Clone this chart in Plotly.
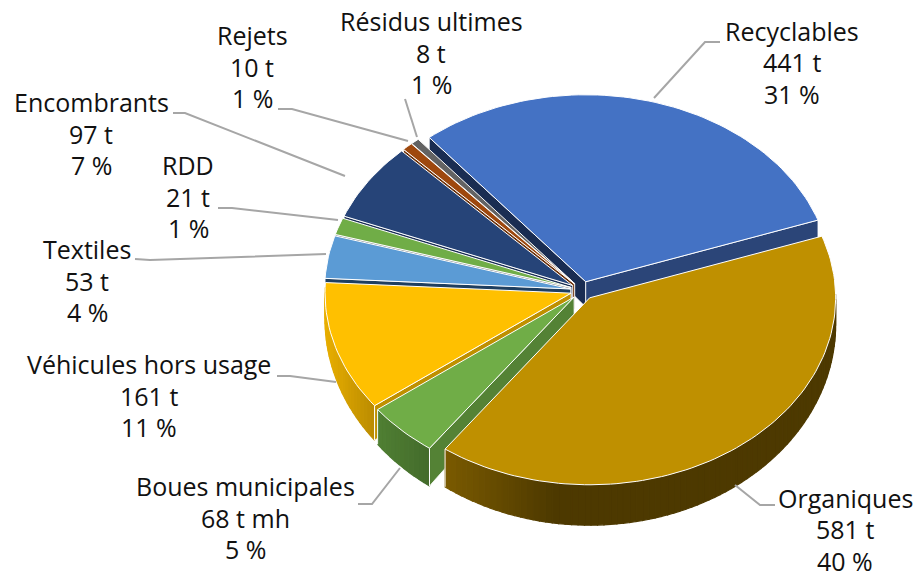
import math
import plotly.graph_objects as go

categories = ["Recyclables", "Organiques", "Boues municipales", "Véhicules hors usage", "Textiles", "RDD", "Encombrants", "Rejets", "Résidus ultimes"]
tonnes = [441, 581, 68, 161, 53, 21, 97, 10, 8]
units = ["t", "t", "t mh", "t", "t", "t", "t", "t", "t"]
percents = [31, 40, 5, 11, 4, 1, 7, 1, 1]

top_colors = ["#4472c4", "#bf9000", "#70ad47", "#ffc000", "#5b9bd5", "#70ad47", "#264478", "#9e480e", "#636363"]
wall_left = ["#264478", "#7a5a00", "#507f33", "#e8ae00", "#2a6aa0", "#4f7a32", "#1a2f55", "#6e320a", "#454545"]
wall_right = ["#264478", "#4d3900", "#436b2b", "#b98b00", "#1f4e79", "#4f7a32", "#1a2f55", "#6e320a", "#454545"]
wall_span = [1, 0.28, 1, 1, 1, 1, 1, 1, 1]
wall_cw = ["#2b4578", "#bf9000", "#548235", "#bf9000", "#1f4e79", "#7f7f7f", "#7f7f7f", "#a5a5a5", "#a5a5a5"]
wall_ccw = ["#1a2d52", "#5f4700", "#548235", "#bf9000", "#1f3f60", "#7f7f7f", "#1a2f55", "#6e320a", "#454545"]

CX, CY, R, TILT, EXPLODE = 582.5, 290.5, 246, 0.76, 12
START = 129.5
TOTAL = sum(tonnes)


def depth(py):
    return 26 + 0.074 * (py - 290)


def hexmix(a, b, t):
    ca = [int(a[i:i + 2], 16) for i in (1, 3, 5)]
    cb = [int(b[i:i + 2], 16) for i in (1, 3, 5)]
    return "#%02x%02x%02x" % tuple(round(x + (y - x) * t) for x, y in zip(ca, cb))


def poly(xs, ys, fill, line=None, width=0.0, name=""):
    return go.Scatter(x=xs + xs[:1], y=ys + ys[:1], mode="lines", fill="toself", fillcolor=fill,
                      line=dict(color=line or fill, width=width), hoverinfo="text", text=name, showlegend=False)


def slice_traces(i, a0, a1):
    """a0 > a1, degrees, going clockwise."""
    mid = math.radians((a0 + a1) / 2)
    ax = CX + EXPLODE * math.cos(mid)
    ay = CY - EXPLODE * TILT * math.sin(mid)

    def pt(deg):
        r = math.radians(deg)
        return ax + R * math.cos(r), ay - R * TILT * math.sin(r)

    n = max(2, int(abs(a0 - a1) / 1.5))
    arc = [a0 + (a1 - a0) * k / n for k in range(n + 1)]
    out = []
    name = categories[i]
    # radial walls: only those facing the viewer
    if math.cos(math.radians(a0)) < 0:
        x, y = pt(a0)
        out.append(poly([ax, x, x, ax], [ay, y, y + depth(y), ay + depth(ay)], wall_ccw[i], "#ffffff", 0.8, name))
    if math.cos(math.radians(a1)) > 0:
        x, y = pt(a1)
        out.append(poly([ax, x, x, ax], [ay, y, y + depth(y), ay + depth(ay)], wall_cw[i], "#ffffff", 0.8, name))
    # outer wall, one strip per step so the shading can change along it
    front = [d for d in arc if math.sin(math.radians(d)) < 0.03]
    if len(front) > 1:
        xa = [pt(d)[0] for d in front]
        lo, hi = min(xa), max(xa)
        for d0, d1 in zip(front, front[1:]):
            x0, y0 = pt(d0)
            x1, y1 = pt(d1)
            t = ((x0 + x1) / 2 - lo) / max(1, hi - lo) / wall_span[i]
            col = hexmix(wall_left[i], wall_right[i], max(0, min(1, t)))
            out.append(poly([x0, x1, x1, x0], [y0, y1, y1 + depth(y1), y0 + depth(y0)], col, col, 1.2, name))
        for d in (front[0], front[-1]):
            x, y = pt(d)
            if math.sin(math.radians(d)) < -0.1 and math.cos(math.radians(d)) < 0:
                out.append(go.Scatter(x=[x, x], y=[y, y + depth(y)], mode="lines", hoverinfo="skip",
                                      line=dict(color="#ffffff", width=1), showlegend=False))
    # top face
    xs, ys = [ax], [ay]
    for d in arc:
        x, y = pt(d)
        xs.append(x)
        ys.append(y)
    out.append(poly(xs, ys, top_colors[i], "#ffffff", 1.0, f"{name}: {tonnes[i]} {units[i]}"))
    return out, math.sin(mid)


parts = []
angle = START
for i, v in enumerate(tonnes):
    sweep = v / TOTAL * 360
    parts.append(slice_traces(i, angle, angle - sweep))
    angle -= sweep

fig = go.Figure()
for traces, _ in sorted(parts, key=lambda p: -p[1]):
    fig.add_traces(traces)

leader_paths = [
    [(720, 42), (705, 42), (654, 98)],
    [(775, 505), (760, 505), (735, 485)],
    [(358, 504), (372, 504), (400, 468)],
    [(277, 376), (290, 376), (336, 382)],
    [(135, 259), (150, 260), (326, 254)],
    [(218, 208), (232, 208), (338, 220)],
    [(173, 113), (185, 113), (345, 176)],
    [(278, 109), (292, 109), (408, 141)],
    [(405, 99), (417, 137)],
]
for path in leader_paths:
    fig.add_trace(go.Scatter(x=[p[0] for p in path], y=[p[1] for p in path], mode="lines",
                             line=dict(color="#a6a6a6", width=2), hoverinfo="skip", showlegend=False))

label_pos = [(792, 62), (845, 529), (245, 517.5), (149, 395.5), (87, 280.5), (188, 196.5), (91, 133.5), (252, 66.5), (431, 52.5)]
LINE_GAP = 31.5
for c, v, u, p, (x, y) in zip(categories, tonnes, units, percents, label_pos):
    for k, line in enumerate((c, f"{v} {u}", f"{p} %")):
        fig.add_annotation(x=x, y=y + (k - 1) * LINE_GAP, xref="x", yref="y", showarrow=False,
                           xanchor="center", yanchor="middle", text=line,
                           font=dict(family="Open Sans, Liberation Sans, sans-serif", size=25, color="#111111"))

fig.update_layout(width=917, height=577, margin=dict(l=0, r=0, t=0, b=0), paper_bgcolor="white", plot_bgcolor="white",
                  showlegend=False,
                  xaxis=dict(range=[0, 917], visible=False, fixedrange=True),
                  yaxis=dict(range=[577, 0], visible=False, fixedrange=True))
fig.write_html("out.html", config={"displayModeBar": False},
               post_script="document.body.style.margin='0';document.body.style.overflow='hidden';")
